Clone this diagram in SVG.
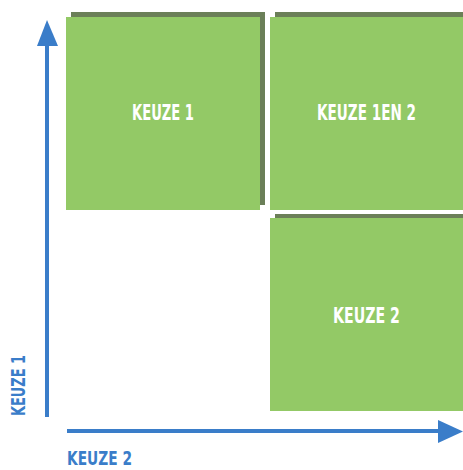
<svg xmlns="http://www.w3.org/2000/svg" width="463" height="470" viewBox="0 0 463 470">
<defs>
<style>
.shadow{fill:#6b7f58}
.box{fill:#93c966}
.lbl{font-family:"DejaVu Sans Condensed","DejaVu Sans",sans-serif;font-weight:bold;font-size:21px;fill:#ffffff;text-anchor:middle}
.ax{font-family:"DejaVu Sans Condensed","DejaVu Sans",sans-serif;font-weight:bold;font-size:20px;fill:#3a7dc9}
.axis{stroke:#3a7dc9;stroke-width:4;fill:none}
.head{fill:#3a7dc9}
</style>
</defs>
<rect width="463" height="470" fill="#ffffff"/>
<g id="connectors">
<line class="axis" x1="47" y1="417" x2="47" y2="42"/>
<polygon class="head" points="47,20 58,46 37,46"/>
<line class="axis" x1="67" y1="431" x2="442" y2="431"/>
<polygon class="head" points="463,431.5 438,420 438,443"/>
</g>
<g id="keuze1">
<rect class="shadow" x="71" y="12" width="194" height="193"/>
<rect class="box" x="66" y="17" width="194" height="193"/>
<text class="lbl" x="163" y="120" textLength="62" lengthAdjust="spacingAndGlyphs">KEUZE 1</text>
</g>
<g id="keuze1en2">
<rect class="shadow" x="275" y="12" width="194" height="193"/>
<rect class="box" x="270" y="17" width="194" height="193"/>
<text class="lbl" x="366.5" y="120" textLength="99" lengthAdjust="spacingAndGlyphs">KEUZE 1EN 2</text>
</g>
<g id="keuze2">
<rect class="shadow" x="275" y="214" width="194" height="193"/>
<rect class="box" x="270" y="218" width="194" height="193"/>
<text class="lbl" x="366.5" y="323" textLength="67" lengthAdjust="spacingAndGlyphs">KEUZE 2</text>
</g>
<g id="axis-y-label">
<text class="ax" transform="translate(25,416) rotate(-90)" x="0" y="0" textLength="61" lengthAdjust="spacingAndGlyphs">KEUZE 1</text>
</g>
<g id="axis-x-label">
<text class="ax" x="67" y="465" textLength="65" lengthAdjust="spacingAndGlyphs">KEUZE 2</text>
</g>
</svg>
